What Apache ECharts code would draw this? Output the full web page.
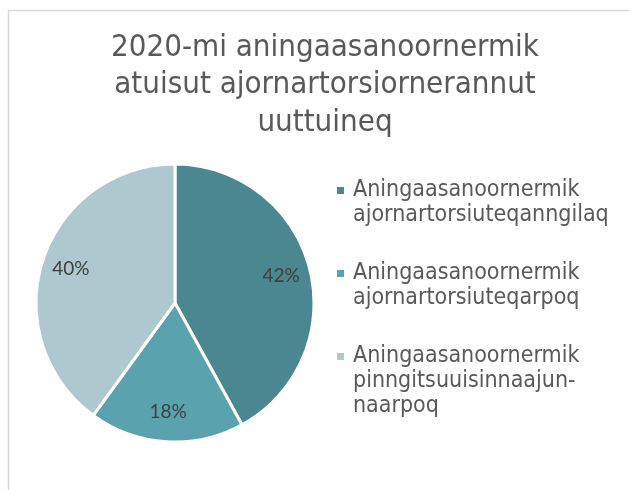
<!DOCTYPE html>
<html>
<head>
<meta charset="utf-8">
<script src="https://cdn.jsdelivr.net/npm/echarts@6/dist/echarts.min.js"></script>
<style>
  html, body { margin: 0; padding: 0; background: #fff; }
  #chart { width: 629px; height: 490px; }
</style>
</head>
<body>
<div id="chart"></div>
<script>
// chart data
var categories = [
  "Aningaasanoornermik\najornartorsiuteqanngilaq",
  "Aningaasanoornermik\najornartorsiuteqarpoq",
  "Aningaasanoornermik\npinngitsuuisinnaajun-\nnaarpoq"
];
var values = [42, 18, 40];
var colors = ["#4a8790", "#5aa3ae", "#aec8cf"];
var titleText = "2020-mi aningaasanoornermik\natuisut ajornartorsiornerannut\nuuttuineq";

var textFont = "DejaVu Sans Condensed";

var pieData = categories.map(function (name, i) {
  return { name: name, value: values[i], itemStyle: { color: colors[i] } };
});

// legend rich styles, one little square per colour
var rich = {
  g: { width: 9 },
  e: { width: 16 },
  t: { fontSize: 23, lineHeight: 25, color: "#595959", fontFamily: textFont }
};
colors.forEach(function (c, i) {
  rich["s" + i] = { width: 7, height: 7, backgroundColor: c };
});

var myChart = echarts.init(document.getElementById("chart"));
myChart.setOption({
  animation: false,
  title: {
    text: titleText,
    left: 320,
    top: 24,
    textAlign: "center",
    textStyle: {
      fontFamily: textFont,
      fontSize: 31,
      fontWeight: "normal",
      lineHeight: 37.5,
      color: "#595959"
    }
  },
  legend: {
    orient: "vertical",
    left: 327,
    top: 174,
    itemGap: 35,
    icon: "none",
    itemWidth: 0,
    itemHeight: 10,
    data: categories,
    formatter: function (name) {
      var i = categories.indexOf(name);
      var lines = name.split("\n");
      return lines.map(function (l, k) {
        return (k === 0 ? "{s" + i + "|}{g|}" : "{e|}") + "{t|" + l + "}";
      }).join("\n");
    },
    textStyle: { rich: rich }
  },
  graphic: [{
    type: "rect",
    shape: { x: 8.5, y: 10.5, width: 700, height: 600 },
    style: { fill: "none", stroke: "#d9d9d9", lineWidth: 1.5 },
    silent: true
  }],
  series: [
    {
      type: "pie",
      center: [175, 303],
      radius: [0, 139],
      startAngle: 90,
      clockwise: true,
      label: { show: false },
      labelLine: { show: false },
      itemStyle: { borderColor: "#fff", borderWidth: 3 },
      emphasis: { disabled: true },
      data: pieData
    },
    {
      // transparent ring only to put the percent labels further out
      type: "pie",
      center: [175, 303],
      radius: [74, 139],
      startAngle: 90,
      clockwise: true,
      silent: true,
      itemStyle: { color: "rgba(0,0,0,0)", borderWidth: 0 },
      label: {
        show: true,
        position: "inside",
        formatter: "{c}%",
        fontFamily: "Lato",
        fontSize: 19,
        color: "#404040"
      },
      labelLine: { show: false },
      emphasis: { disabled: true },
      data: categories.map(function (name, i) {
        return { name: name, value: values[i] };
      })
    }
  ]
});
window.onresize = function () {
  myChart.resize();
};
</script>
</body>
</html>
